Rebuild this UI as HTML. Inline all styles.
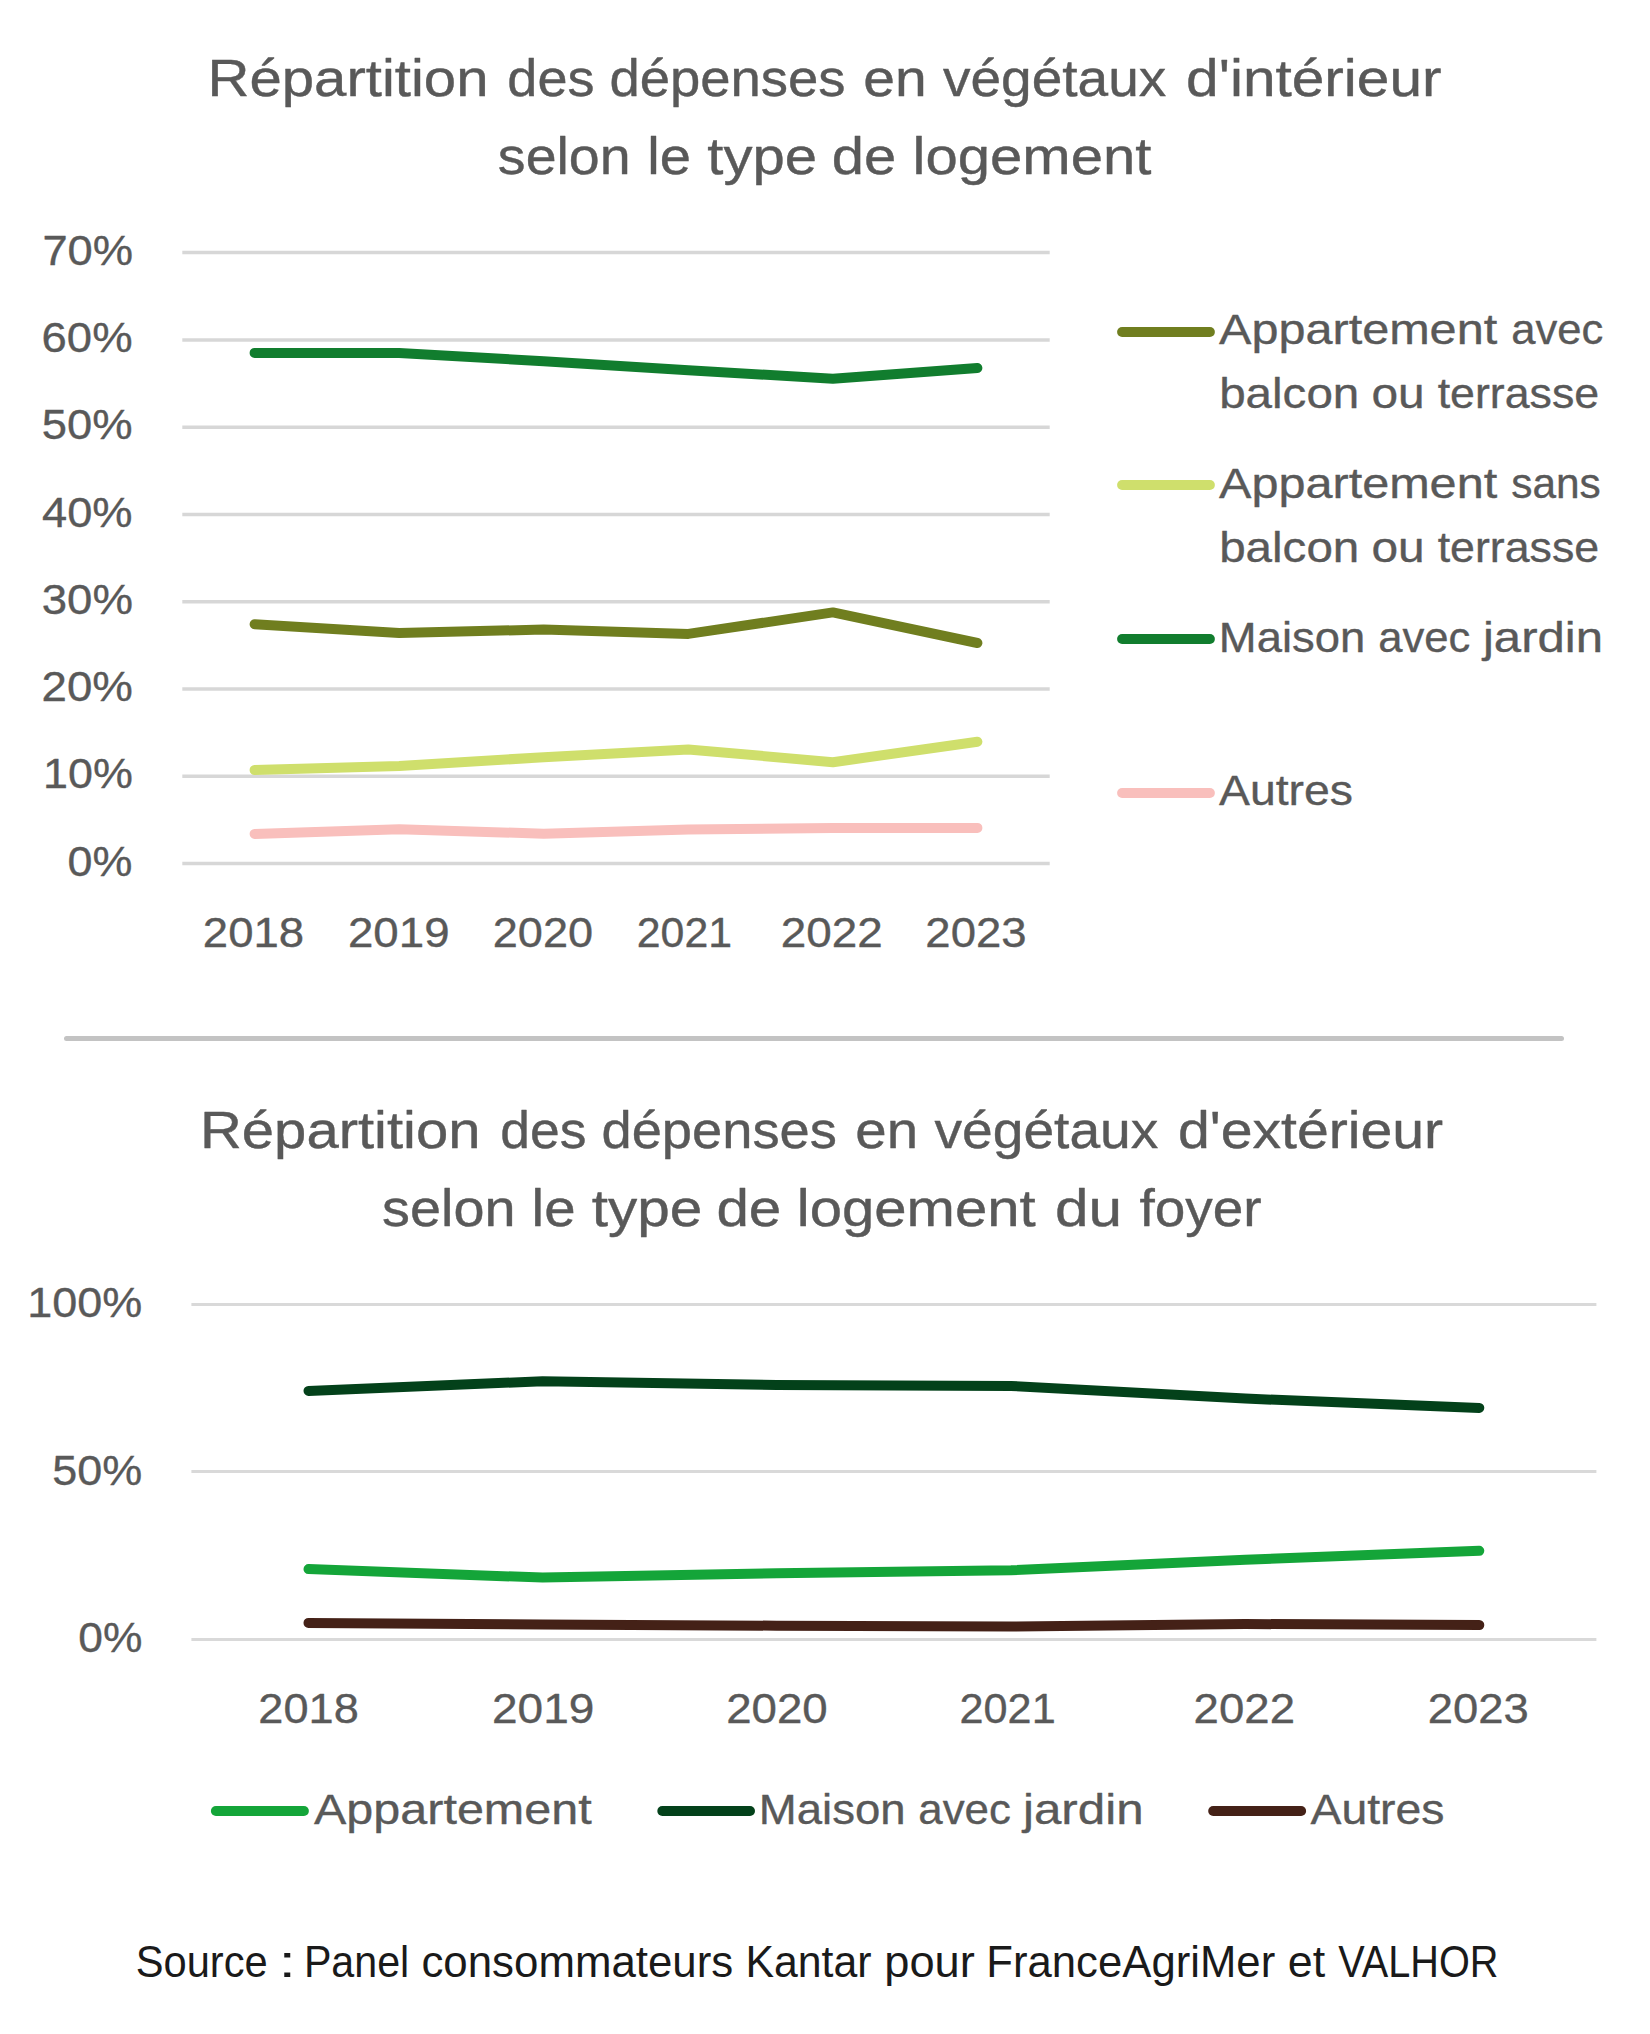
<!DOCTYPE html><html><head><meta charset="utf-8"><title>Végétaux</title><style>html,body{margin:0;padding:0;background:#fff;}svg{display:block;font-family:"Liberation Sans",sans-serif;}</style></head><body>
<svg width="1650" height="2034" viewBox="0 0 1650 2034">
<rect width="1650" height="2034" fill="#fff"/>
<g stroke="#d7d7d7" stroke-width="3.5">
<line x1="182.3" y1="863.6" x2="1049.7" y2="863.6"/>
<line x1="182.3" y1="776.3" x2="1049.7" y2="776.3"/>
<line x1="182.3" y1="689.0" x2="1049.7" y2="689.0"/>
<line x1="182.3" y1="601.7" x2="1049.7" y2="601.7"/>
<line x1="182.3" y1="514.5" x2="1049.7" y2="514.5"/>
<line x1="182.3" y1="427.2" x2="1049.7" y2="427.2"/>
<line x1="182.3" y1="339.9" x2="1049.7" y2="339.9"/>
<line x1="182.3" y1="252.6" x2="1049.7" y2="252.6"/>
</g>
<g stroke="#d9d9d9" stroke-width="3">
<line x1="191.4" y1="1304.5" x2="1596.4" y2="1304.5"/>
<line x1="191.4" y1="1471.6" x2="1596.4" y2="1471.6"/>
<line x1="191.4" y1="1639.4" x2="1596.4" y2="1639.4"/>
</g>
<line x1="66.5" y1="1038.4" x2="1561.5" y2="1038.4" stroke="#c3c3c3" stroke-width="5" stroke-linecap="round"/>
<g fill="none" stroke-width="10" stroke-linecap="round" stroke-linejoin="round">
<polyline stroke="#f9bfbc" points="254.6,833.9 399.2,829.3 543.7,833.7 688.3,829.5 832.9,828.1 977.4,827.9"/>
<polyline stroke="#cfdf6c" points="254.6,770.0 399.2,766.0 543.7,757.2 688.3,749.4 832.9,762.2 977.4,741.8"/>
<polyline stroke="#707e1f" points="254.6,624.2 399.2,633.1 543.7,629.5 688.3,633.9 832.9,612.4 977.4,643.0"/>
<polyline stroke="#117d2e" points="254.6,352.9 399.2,352.9 543.7,361.3 688.3,370.2 832.9,378.7 977.4,368.0"/>
<polyline stroke="#442117" points="308.5,1622.9 542.6,1624.4 776.8,1625.7 1011.0,1626.6 1245.2,1624.0 1479.3,1625.1"/>
<polyline stroke="#14a539" points="308.5,1569.1 542.6,1577.6 776.8,1573.2 1011.0,1570.2 1245.2,1559.8 1479.3,1550.8"/>
<polyline stroke="#03411a" points="308.5,1390.9 542.6,1381.2 776.8,1385.0 1011.0,1385.9 1245.2,1398.6 1479.3,1407.9"/>
<line stroke="#707e1f" x1="1122.1" y1="332.0" x2="1209.9" y2="332.0"/>
<line stroke="#cfdf6c" x1="1122.1" y1="485.0" x2="1209.9" y2="485.0"/>
<line stroke="#117d2e" x1="1122.1" y1="639.0" x2="1209.9" y2="639.0"/>
<line stroke="#f9bfbc" x1="1122.1" y1="793.0" x2="1209.9" y2="793.0"/>
<line stroke="#14a539" x1="215.9" y1="1811.0" x2="303.9" y2="1811.0"/>
<line stroke="#03411a" x1="662.3" y1="1811.0" x2="750.0" y2="1811.0"/>
<line stroke="#442117" x1="1213.2" y1="1811.0" x2="1301.1" y2="1811.0"/>
</g>
<text id="t1a_0" x="207.55" y="95.80" font-size="50.9" fill="#595959" stroke="#595959" stroke-width="0.4" stroke-linejoin="round" textLength="280.94" lengthAdjust="spacingAndGlyphs">Répartition</text>
<text id="t1a_1" x="507.36" y="95.80" font-size="50.9" fill="#595959" stroke="#595959" stroke-width="0.4" stroke-linejoin="round" textLength="87.15" lengthAdjust="spacingAndGlyphs">des</text>
<text id="t1a_2" x="609.40" y="95.80" font-size="50.9" fill="#595959" stroke="#595959" stroke-width="0.4" stroke-linejoin="round" textLength="236.14" lengthAdjust="spacingAndGlyphs">dépenses</text>
<text id="t1a_3" x="863.37" y="95.80" font-size="50.9" fill="#595959" stroke="#595959" stroke-width="0.4" stroke-linejoin="round" textLength="63.40" lengthAdjust="spacingAndGlyphs">en</text>
<text id="t1a_4" x="943.00" y="95.80" font-size="50.9" fill="#595959" stroke="#595959" stroke-width="0.4" stroke-linejoin="round" textLength="223.35" lengthAdjust="spacingAndGlyphs">végétaux</text>
<text id="t1a_5" x="1186.13" y="95.80" font-size="50.9" fill="#595959" stroke="#595959" stroke-width="0.4" stroke-linejoin="round" textLength="255.44" lengthAdjust="spacingAndGlyphs">d&#39;intérieur</text>
<text id="t1b_0" x="497.88" y="173.60" font-size="50.9" fill="#595959" stroke="#595959" stroke-width="0.4" stroke-linejoin="round" textLength="132.75" lengthAdjust="spacingAndGlyphs">selon</text>
<text id="t1b_1" x="647.20" y="173.60" font-size="50.9" fill="#595959" stroke="#595959" stroke-width="0.4" stroke-linejoin="round" textLength="43.70" lengthAdjust="spacingAndGlyphs">le</text>
<text id="t1b_2" x="707.39" y="173.60" font-size="50.9" fill="#595959" stroke="#595959" stroke-width="0.4" stroke-linejoin="round" textLength="109.76" lengthAdjust="spacingAndGlyphs">type</text>
<text id="t1b_3" x="831.89" y="173.60" font-size="50.9" fill="#595959" stroke="#595959" stroke-width="0.4" stroke-linejoin="round" textLength="64.42" lengthAdjust="spacingAndGlyphs">de</text>
<text id="t1b_4" x="912.52" y="173.60" font-size="50.9" fill="#595959" stroke="#595959" stroke-width="0.4" stroke-linejoin="round" textLength="238.89" lengthAdjust="spacingAndGlyphs">logement</text>
<text id="t2a_0" x="199.97" y="1148.20" font-size="50.9" fill="#595959" stroke="#595959" stroke-width="0.4" stroke-linejoin="round" textLength="280.52" lengthAdjust="spacingAndGlyphs">Répartition</text>
<text id="t2a_1" x="500.24" y="1148.20" font-size="50.9" fill="#595959" stroke="#595959" stroke-width="0.4" stroke-linejoin="round" textLength="86.18" lengthAdjust="spacingAndGlyphs">des</text>
<text id="t2a_2" x="601.51" y="1148.20" font-size="50.9" fill="#595959" stroke="#595959" stroke-width="0.4" stroke-linejoin="round" textLength="235.33" lengthAdjust="spacingAndGlyphs">dépenses</text>
<text id="t2a_3" x="855.38" y="1148.20" font-size="50.9" fill="#595959" stroke="#595959" stroke-width="0.4" stroke-linejoin="round" textLength="62.81" lengthAdjust="spacingAndGlyphs">en</text>
<text id="t2a_4" x="934.49" y="1148.20" font-size="50.9" fill="#595959" stroke="#595959" stroke-width="0.4" stroke-linejoin="round" textLength="223.87" lengthAdjust="spacingAndGlyphs">végétaux</text>
<text id="t2a_5" x="1177.92" y="1148.20" font-size="50.9" fill="#595959" stroke="#595959" stroke-width="0.4" stroke-linejoin="round" textLength="265.23" lengthAdjust="spacingAndGlyphs">d&#39;extérieur</text>
<text id="t2b_0" x="382.08" y="1226.00" font-size="50.9" fill="#595959" stroke="#595959" stroke-width="0.4" stroke-linejoin="round" textLength="133.35" lengthAdjust="spacingAndGlyphs">selon</text>
<text id="t2b_1" x="531.64" y="1226.00" font-size="50.9" fill="#595959" stroke="#595959" stroke-width="0.4" stroke-linejoin="round" textLength="43.92" lengthAdjust="spacingAndGlyphs">le</text>
<text id="t2b_2" x="591.79" y="1226.00" font-size="50.9" fill="#595959" stroke="#595959" stroke-width="0.4" stroke-linejoin="round" textLength="110.58" lengthAdjust="spacingAndGlyphs">type</text>
<text id="t2b_3" x="716.41" y="1226.00" font-size="50.9" fill="#595959" stroke="#595959" stroke-width="0.4" stroke-linejoin="round" textLength="64.92" lengthAdjust="spacingAndGlyphs">de</text>
<text id="t2b_4" x="796.82" y="1226.00" font-size="50.9" fill="#595959" stroke="#595959" stroke-width="0.4" stroke-linejoin="round" textLength="238.89" lengthAdjust="spacingAndGlyphs">logement</text>
<text id="t2b_5" x="1055.09" y="1226.00" font-size="50.9" fill="#595959" stroke="#595959" stroke-width="0.4" stroke-linejoin="round" textLength="67.05" lengthAdjust="spacingAndGlyphs">du</text>
<text id="t2b_6" x="1139.49" y="1226.00" font-size="50.9" fill="#595959" stroke="#595959" stroke-width="0.4" stroke-linejoin="round" textLength="122.14" lengthAdjust="spacingAndGlyphs">foyer</text>
<text id="ty0" x="67.58" y="875.70" font-size="41.9" fill="#595959" stroke="#595959" stroke-width="0.35" stroke-linejoin="round" textLength="64.89" lengthAdjust="spacingAndGlyphs">0%</text>
<text id="ty1" x="43.11" y="788.44" font-size="41.9" fill="#595959" stroke="#595959" stroke-width="0.35" stroke-linejoin="round" textLength="89.86" lengthAdjust="spacingAndGlyphs">10%</text>
<text id="ty2" x="41.57" y="701.19" font-size="41.9" fill="#595959" stroke="#595959" stroke-width="0.35" stroke-linejoin="round" textLength="91.41" lengthAdjust="spacingAndGlyphs">20%</text>
<text id="ty3" x="41.77" y="613.93" font-size="41.9" fill="#595959" stroke="#595959" stroke-width="0.35" stroke-linejoin="round" textLength="91.21" lengthAdjust="spacingAndGlyphs">30%</text>
<text id="ty4" x="42.00" y="526.67" font-size="41.9" fill="#595959" stroke="#595959" stroke-width="0.35" stroke-linejoin="round" textLength="90.58" lengthAdjust="spacingAndGlyphs">40%</text>
<text id="ty5" x="41.78" y="439.41" font-size="41.9" fill="#595959" stroke="#595959" stroke-width="0.35" stroke-linejoin="round" textLength="90.79" lengthAdjust="spacingAndGlyphs">50%</text>
<text id="ty6" x="41.58" y="352.16" font-size="41.9" fill="#595959" stroke="#595959" stroke-width="0.35" stroke-linejoin="round" textLength="91.00" lengthAdjust="spacingAndGlyphs">60%</text>
<text id="ty7" x="42.40" y="264.90" font-size="41.9" fill="#595959" stroke="#595959" stroke-width="0.35" stroke-linejoin="round" textLength="90.70" lengthAdjust="spacingAndGlyphs">70%</text>
<text id="tx0" x="202.87" y="947.00" font-size="41.9" fill="#595959" stroke="#595959" stroke-width="0.35" stroke-linejoin="round" textLength="101.22" lengthAdjust="spacingAndGlyphs">2018</text>
<text id="tx1" x="347.97" y="947.00" font-size="41.9" fill="#595959" stroke="#595959" stroke-width="0.35" stroke-linejoin="round" textLength="101.62" lengthAdjust="spacingAndGlyphs">2019</text>
<text id="tx2" x="492.78" y="947.00" font-size="41.9" fill="#595959" stroke="#595959" stroke-width="0.35" stroke-linejoin="round" textLength="100.38" lengthAdjust="spacingAndGlyphs">2020</text>
<text id="tx3" x="636.77" y="947.00" font-size="41.9" fill="#595959" stroke="#595959" stroke-width="0.35" stroke-linejoin="round" textLength="95.31" lengthAdjust="spacingAndGlyphs">2021</text>
<text id="tx4" x="780.77" y="947.00" font-size="41.9" fill="#595959" stroke="#595959" stroke-width="0.35" stroke-linejoin="round" textLength="102.03" lengthAdjust="spacingAndGlyphs">2022</text>
<text id="tx5" x="925.36" y="947.00" font-size="41.9" fill="#595959" stroke="#595959" stroke-width="0.35" stroke-linejoin="round" textLength="101.22" lengthAdjust="spacingAndGlyphs">2023</text>
<text id="tl1a_0" x="1219.00" y="344.30" font-size="41.9" fill="#595959" stroke="#595959" stroke-width="0.35" stroke-linejoin="round" textLength="278.17" lengthAdjust="spacingAndGlyphs">Appartement</text>
<text id="tl1a_1" x="1511.19" y="344.30" font-size="41.9" fill="#595959" stroke="#595959" stroke-width="0.35" stroke-linejoin="round" textLength="92.13" lengthAdjust="spacingAndGlyphs">avec</text>
<text id="tl1b_0" x="1219.15" y="408.00" font-size="41.9" fill="#595959" stroke="#595959" stroke-width="0.35" stroke-linejoin="round" textLength="140.20" lengthAdjust="spacingAndGlyphs">balcon</text>
<text id="tl1b_1" x="1371.46" y="408.00" font-size="41.9" fill="#595959" stroke="#595959" stroke-width="0.35" stroke-linejoin="round" textLength="53.23" lengthAdjust="spacingAndGlyphs">ou</text>
<text id="tl1b_2" x="1437.69" y="408.00" font-size="41.9" fill="#595959" stroke="#595959" stroke-width="0.35" stroke-linejoin="round" textLength="161.39" lengthAdjust="spacingAndGlyphs">terrasse</text>
<text id="tl2a_0" x="1219.00" y="497.70" font-size="41.9" fill="#595959" stroke="#595959" stroke-width="0.35" stroke-linejoin="round" textLength="278.17" lengthAdjust="spacingAndGlyphs">Appartement</text>
<text id="tl2a_1" x="1511.19" y="497.70" font-size="41.9" fill="#595959" stroke="#595959" stroke-width="0.35" stroke-linejoin="round" textLength="89.57" lengthAdjust="spacingAndGlyphs">sans</text>
<text id="tl2b_0" x="1219.15" y="561.70" font-size="41.9" fill="#595959" stroke="#595959" stroke-width="0.35" stroke-linejoin="round" textLength="140.20" lengthAdjust="spacingAndGlyphs">balcon</text>
<text id="tl2b_1" x="1371.46" y="561.70" font-size="41.9" fill="#595959" stroke="#595959" stroke-width="0.35" stroke-linejoin="round" textLength="53.23" lengthAdjust="spacingAndGlyphs">ou</text>
<text id="tl2b_2" x="1437.69" y="561.70" font-size="41.9" fill="#595959" stroke="#595959" stroke-width="0.35" stroke-linejoin="round" textLength="161.39" lengthAdjust="spacingAndGlyphs">terrasse</text>
<text id="tl3_0" x="1218.84" y="651.70" font-size="41.9" fill="#595959" stroke="#595959" stroke-width="0.35" stroke-linejoin="round" textLength="146.33" lengthAdjust="spacingAndGlyphs">Maison</text>
<text id="tl3_1" x="1378.28" y="651.70" font-size="41.9" fill="#595959" stroke="#595959" stroke-width="0.35" stroke-linejoin="round" textLength="92.12" lengthAdjust="spacingAndGlyphs">avec</text>
<text id="tl3_2" x="1482.97" y="651.70" font-size="41.9" fill="#595959" stroke="#595959" stroke-width="0.35" stroke-linejoin="round" textLength="120.08" lengthAdjust="spacingAndGlyphs">jardin</text>
<text id="tl4" x="1219.00" y="805.00" font-size="41.9" fill="#595959" stroke="#595959" stroke-width="0.35" stroke-linejoin="round" textLength="133.95" lengthAdjust="spacingAndGlyphs">Autres</text>
<text id="by0" x="27.25" y="1317.00" font-size="41.9" fill="#595959" stroke="#595959" stroke-width="0.35" stroke-linejoin="round" textLength="115.04" lengthAdjust="spacingAndGlyphs">100%</text>
<text id="by1" x="52.39" y="1484.80" font-size="41.9" fill="#595959" stroke="#595959" stroke-width="0.35" stroke-linejoin="round" textLength="89.97" lengthAdjust="spacingAndGlyphs">50%</text>
<text id="by2" x="78.37" y="1652.40" font-size="41.9" fill="#595959" stroke="#595959" stroke-width="0.35" stroke-linejoin="round" textLength="64.08" lengthAdjust="spacingAndGlyphs">0%</text>
<text id="bx0" x="258.39" y="1722.80" font-size="41.9" fill="#595959" stroke="#595959" stroke-width="0.35" stroke-linejoin="round" textLength="100.39" lengthAdjust="spacingAndGlyphs">2018</text>
<text id="bx1" x="491.97" y="1722.80" font-size="41.9" fill="#595959" stroke="#595959" stroke-width="0.35" stroke-linejoin="round" textLength="102.44" lengthAdjust="spacingAndGlyphs">2019</text>
<text id="bx2" x="726.17" y="1722.80" font-size="41.9" fill="#595959" stroke="#595959" stroke-width="0.35" stroke-linejoin="round" textLength="101.62" lengthAdjust="spacingAndGlyphs">2020</text>
<text id="bx3" x="959.57" y="1722.80" font-size="41.9" fill="#595959" stroke="#595959" stroke-width="0.35" stroke-linejoin="round" textLength="96.12" lengthAdjust="spacingAndGlyphs">2021</text>
<text id="bx4" x="1193.58" y="1722.80" font-size="41.9" fill="#595959" stroke="#595959" stroke-width="0.35" stroke-linejoin="round" textLength="101.41" lengthAdjust="spacingAndGlyphs">2022</text>
<text id="bx5" x="1427.76" y="1722.80" font-size="41.9" fill="#595959" stroke="#595959" stroke-width="0.35" stroke-linejoin="round" textLength="101.01" lengthAdjust="spacingAndGlyphs">2023</text>
<text id="bl1" x="314.00" y="1824.00" font-size="41.9" fill="#595959" stroke="#595959" stroke-width="0.35" stroke-linejoin="round" textLength="277.67" lengthAdjust="spacingAndGlyphs">Appartement</text>
<text id="bl2_0" x="758.84" y="1823.70" font-size="41.9" fill="#595959" stroke="#595959" stroke-width="0.35" stroke-linejoin="round" textLength="146.83" lengthAdjust="spacingAndGlyphs">Maison</text>
<text id="bl2_1" x="918.29" y="1823.70" font-size="41.9" fill="#595959" stroke="#595959" stroke-width="0.35" stroke-linejoin="round" textLength="92.62" lengthAdjust="spacingAndGlyphs">avec</text>
<text id="bl2_2" x="1022.97" y="1823.70" font-size="41.9" fill="#595959" stroke="#595959" stroke-width="0.35" stroke-linejoin="round" textLength="120.60" lengthAdjust="spacingAndGlyphs">jardin</text>
<text id="bl3" x="1310.48" y="1824.10" font-size="41.9" fill="#595959" stroke="#595959" stroke-width="0.35" stroke-linejoin="round" textLength="133.97" lengthAdjust="spacingAndGlyphs">Autres</text>
<text id="src_0" x="135.68" y="1977.00" font-size="44.5" fill="#1a1a1a" textLength="132.10" lengthAdjust="spacingAndGlyphs">Source</text>
<text id="src_1" x="278.40" y="1977.00" font-size="44.5" fill="#1a1a1a" textLength="17.53" lengthAdjust="spacingAndGlyphs">:</text>
<text id="src_2" x="303.89" y="1977.00" font-size="44.5" fill="#1a1a1a" textLength="105.37" lengthAdjust="spacingAndGlyphs">Panel</text>
<text id="src_3" x="421.41" y="1977.00" font-size="44.5" fill="#1a1a1a" textLength="311.86" lengthAdjust="spacingAndGlyphs">consommateurs</text>
<text id="src_4" x="745.46" y="1977.00" font-size="44.5" fill="#1a1a1a" textLength="126.09" lengthAdjust="spacingAndGlyphs">Kantar</text>
<text id="src_5" x="884.25" y="1977.00" font-size="44.5" fill="#1a1a1a" textLength="90.62" lengthAdjust="spacingAndGlyphs">pour</text>
<text id="src_6" x="986.31" y="1977.00" font-size="44.5" fill="#1a1a1a" textLength="288.89" lengthAdjust="spacingAndGlyphs">FranceAgriMer</text>
<text id="src_7" x="1287.87" y="1977.00" font-size="44.5" fill="#1a1a1a" textLength="37.39" lengthAdjust="spacingAndGlyphs">et</text>
<text id="src_8" x="1338.20" y="1977.00" font-size="44.5" fill="#1a1a1a" textLength="160.25" lengthAdjust="spacingAndGlyphs">VALHOR</text>
</svg></body></html>
